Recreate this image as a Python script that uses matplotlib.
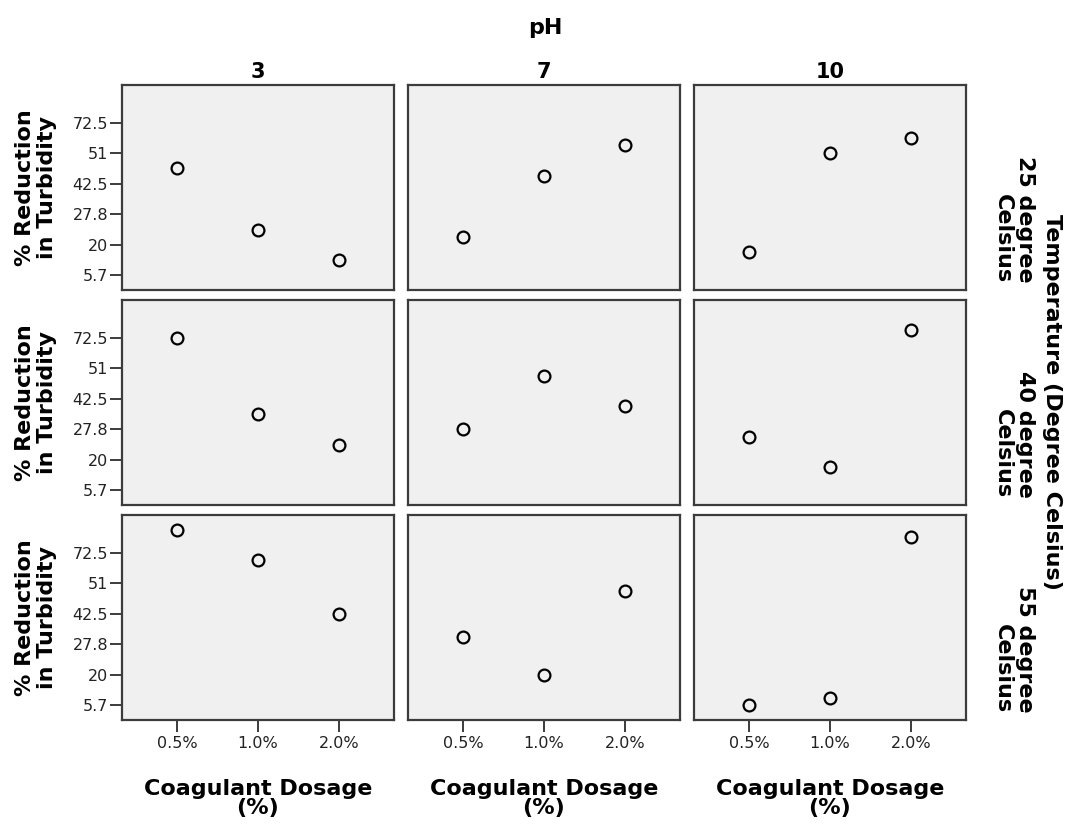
import numpy as np
import matplotlib
matplotlib.use('Agg')
import matplotlib.pyplot as plt

# 数据：横轴为投加量类别，纵轴为分类刻度(按刻度序号定位)
dosage = ['0.5%', '1.0%', '2.0%']
ph_levels = ['3', '7', '10']
temp_labels = ['25 degree\nCelsius', '40 degree\nCelsius', '55 degree\nCelsius']
y_tick_labels = ['5.7', '20', '27.8', '42.5', '51', '72.5']

# 每个面板三个点的纵向位置（以刻度序号为单位，0 = 5.7, 5 = 72.5）
temp25 = [[3.5, 1.5, 0.5], [1.25, 3.25, 4.25], [0.75, 4.0, 4.5]]
temp40 = [[5.0, 2.5, 1.5], [2.0, 3.75, 2.75], [1.75, 0.75, 5.25]]
temp55 = [[5.75, 4.75, 3.0], [2.25, 1.0, 3.75], [0.0, 0.25, 5.5]]
rows = [temp25, temp40, temp55]

W, H = 1065, 826
fig = plt.figure(figsize=(W / 100, H / 100), dpi=100)
fig.patch.set_facecolor('white')

col_left = [122, 408, 694]
row_top = [85, 300, 515]
pw, ph = 272, 205

label_font = dict(family='DejaVu Sans', fontweight='bold', fontsize=16, color='black')

for r in range(3):
    for c in range(3):
        ax = fig.add_axes([col_left[c] / W, 1 - (row_top[r] + ph) / H, pw / W, ph / H])
        ax.set_facecolor('#f0f0f0')
        for s in ax.spines.values():
            s.set_color('#3c3c3c')
            s.set_linewidth(1.6)
        ax.plot(range(len(dosage)), rows[r][c], linestyle='none', marker='o',
                markersize=8.5, markerfacecolor='none', markeredgecolor='black',
                markeredgewidth=1.6)
        ax.set_xlim(-0.68, 2.68)
        ax.set_ylim(-0.48, 6.23)
        ax.set_xticks(range(len(dosage)))
        ax.set_yticks(range(len(y_tick_labels)))
        ax.tick_params(length=8.5, width=1.4, color='#3c3c3c', labelcolor='#222222',
                       labelsize=11.5)
        ax.tick_params(axis='x', pad=3)
        ax.tick_params(axis='y', pad=1.5)
        if c == 0:
            ax.set_yticklabels(y_tick_labels)
            ax.set_ylabel('% Reduction\nin Turbidity', labelpad=11, linespacing=1.15,
                          **label_font)
        else:
            ax.tick_params(axis='y', left=False, labelleft=False)
        if r == 2:
            ax.set_xticklabels(dosage)
            ax.set_xlabel('Coagulant Dosage\n(%)', labelpad=20, linespacing=0.95,
                          **label_font)
        else:
            ax.tick_params(axis='x', bottom=False, labelbottom=False)
        if r == 0:
            ax.set_title(ph_levels[c], pad=5, fontsize=15, fontweight='bold',
                         family='DejaVu Sans')
        if c == 2:
            y_end = row_top[r] + ph - 7
            fig.text(1035 / W, 1 - y_end / H, temp_labels[r], rotation=-90,
                     ha='right', va='bottom', multialignment='right',
                     linespacing=1.15, **label_font)

fig.text(545 / W, 1 - 28 / H, 'pH', ha='center', va='center', **label_font)
fig.text(1052 / W, 1 - 402 / H, 'Temperature (Degree Celsius)', rotation=-90,
         ha='center', va='center', **label_font)

fig.savefig('out.png', dpi=100)
